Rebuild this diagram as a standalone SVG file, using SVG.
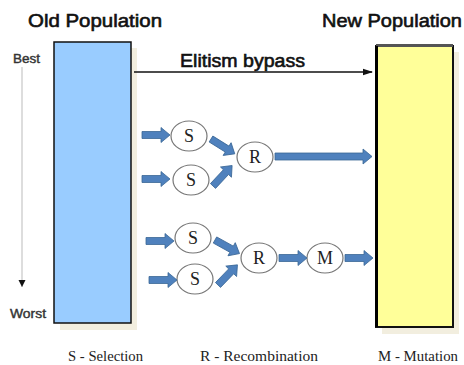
<svg xmlns="http://www.w3.org/2000/svg" xmlns:xlink="http://www.w3.org/1999/xlink" width="464" height="365" viewBox="0 0 464 365">
<style>
.title{font-family:"Liberation Sans",Arial,sans-serif;font-size:18px;fill:#111;stroke:#111;stroke-width:0.6}
.side{font-family:"Liberation Sans",Arial,sans-serif;font-size:12px;fill:#333;stroke:#333;stroke-width:0.4}
.leg{font-family:"Liberation Serif","Times New Roman",serif;font-size:15px;fill:#222}
.nd{fill:#fff;stroke:#777;stroke-width:1.2}
.nt{font-family:"Liberation Serif","Times New Roman",serif;font-size:18px;fill:#222;text-anchor:middle}
.blk{fill:#4F81BD;stroke:#3A6796;stroke-width:0.8}
.shadow{fill:#F2EEDF}
</style>
<defs>
<path id="ba" d="M0,-3.5 H19 V-7.5 L28,0 L19,7.5 V3.5 H0 Z"/>
<marker id="ah" markerWidth="10" markerHeight="8" refX="9" refY="4" orient="auto" markerUnits="userSpaceOnUse">
<path d="M0,0.8 L10,4 L0,7.2 Z" fill="#111"/>
</marker>
<marker id="ah2" markerWidth="8" markerHeight="8" refX="4" refY="7" orient="0" markerUnits="userSpaceOnUse">
<path d="M0.5,0 L7.5,0 L4,7 Z" fill="#111"/>
</marker>
</defs>
<rect width="464" height="365" fill="#fff"/>

<g id="old-population">
<rect class="shadow" x="60" y="48" width="77" height="282"/>
<rect x="54" y="42" width="77" height="281" fill="#99CCFF" stroke="#111" stroke-width="1.5"/>
<text class="title" x="28" y="27" textLength="134" lengthAdjust="spacingAndGlyphs">Old  Population</text>
</g>

<g id="new-population">
<rect class="shadow" x="382" y="52" width="77" height="282"/>
<rect x="376" y="46" width="77" height="281" fill="#FFFF99" stroke="#111" stroke-width="2"/>
<line x1="376" y1="45.5" x2="453" y2="45.5" stroke="#555" stroke-width="3"/>
<line x1="376.5" y1="46" x2="376.5" y2="327" stroke="#000" stroke-width="3"/>
<text class="title" x="322" y="27" textLength="140" lengthAdjust="spacingAndGlyphs">New  Population</text>
</g>

<g id="rank-axis">
<text class="side" x="13" y="63" textLength="27" lengthAdjust="spacingAndGlyphs">Best</text>
<line x1="22" y1="67" x2="22" y2="287" stroke="#bbb" stroke-width="1" marker-end="url(#ah2)"/>
<text class="side" x="10" y="318" textLength="36" lengthAdjust="spacingAndGlyphs">Worst</text>
</g>

<g id="s1"><ellipse class="nd" cx="189" cy="136" rx="18" ry="15"/><text class="nt" x="189" y="142">S</text></g>
<g id="s2"><ellipse class="nd" cx="191" cy="180" rx="18" ry="15"/><text class="nt" x="191" y="186">S</text></g>
<g id="r1"><ellipse class="nd" cx="255" cy="157" rx="18" ry="15"/><text class="nt" x="255" y="163">R</text></g>
<g id="s3"><ellipse class="nd" cx="193" cy="238" rx="18" ry="15"/><text class="nt" x="193" y="244">S</text></g>
<g id="s4"><ellipse class="nd" cx="195" cy="279" rx="18" ry="15"/><text class="nt" x="195" y="285">S</text></g>
<g id="r2"><ellipse class="nd" cx="259" cy="258" rx="18" ry="15"/><text class="nt" x="259" y="264">R</text></g>
<g id="m1"><ellipse class="nd" cx="325" cy="258" rx="18" ry="15"/><text class="nt" x="325" y="264">M</text></g>

<g id="connectors">
<line x1="134" y1="72" x2="372" y2="72" stroke="#111" stroke-width="1.5" marker-end="url(#ah)"/>
<text class="title" x="180" y="67" textLength="125" lengthAdjust="spacingAndGlyphs">Elitism bypass</text>
<use href="#ba" class="blk" transform="translate(142,135)"/>
<use href="#ba" class="blk" transform="translate(142,179)"/>
<use href="#ba" class="blk" transform="translate(211,139) rotate(32)"/>
<use href="#ba" class="blk" transform="translate(213,186) rotate(-47)"/>
<path class="blk" d="M275,153 H363 V149 L372,156.5 L363,164 V160 H275 Z"/>
<use href="#ba" class="blk" transform="translate(146,241)"/>
<use href="#ba" class="blk" transform="translate(149,280)"/>
<use href="#ba" class="blk" transform="translate(215,240) rotate(29)"/>
<use href="#ba" class="blk" transform="translate(218,285) rotate(-46)"/>
<use href="#ba" class="blk" transform="translate(279,258)"/>
<use href="#ba" class="blk" transform="translate(345,258)"/>
</g>

<g id="legend">
<text class="leg" x="68" y="361" textLength="75" lengthAdjust="spacingAndGlyphs">S - Selection</text>
<text class="leg" x="200" y="361" textLength="118" lengthAdjust="spacingAndGlyphs">R - Recombination</text>
<text class="leg" x="378" y="361" textLength="80" lengthAdjust="spacingAndGlyphs">M - Mutation</text>
</g>
</svg>
